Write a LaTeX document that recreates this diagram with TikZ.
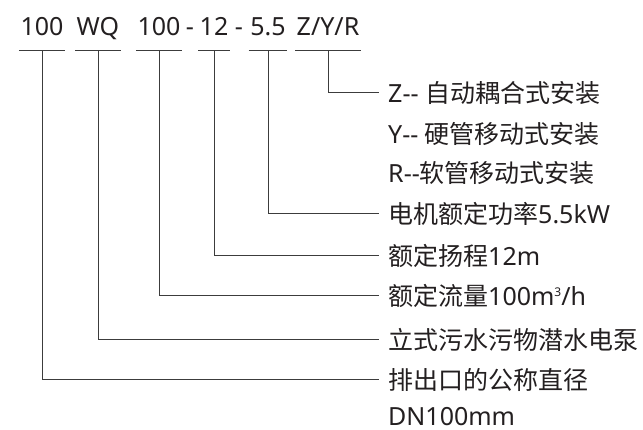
\documentclass[tikz,border=0pt]{standalone}
\usepackage{fontspec}
\setmainfont{Noto Sans}
\newfontfamily\cjk{Noto Sans CJK SC}
\usepackage{tikz}
\usetikzlibrary{calc,positioning}
\definecolor{inkgray}{HTML}{231F20}
\definecolor{linegray}{HTML}{3C3C3C}
\tikzset{
  codepart/.style={
    anchor=base,
    inner xsep=1.5pt,
    text=inkgray,
    font=\fontsize{25}{28}\selectfont},
  desc/.style={
    anchor=west,
    inner xsep=0pt,
    inner ysep=0pt,
    text height=22pt,
    text depth=3pt,
    text=inkgray,
    font=\fontsize{25}{28}\selectfont},
  line/.style={draw=linegray, line width=1pt},
}
\begin{document}
\begin{tikzpicture}
  [x=1pt, y=-1pt]
  \useasboundingbox (0,0) rectangle (643,430);
  % model code
  \node[codepart] (dia)  at (42,36)  {100};
  \node[codepart] (kind) at (98,36)  {WQ};
  \node[codepart] (flow) at (159,36) {100};
  \node[codepart] (dasha) at (190,36) {-};
  \node[codepart] (head) at (214,36) {12};
  \node[codepart] (dashb) at (239,36) {-};
  \node[codepart] (power) at (268,36) {5.5};
  \node[codepart] (mount) at (328,36) {Z/Y/R};
  % meanings
  \node[desc] (mountZ) at (388,93)  {Z-{}- {\cjk 自动耦合式安装}};
  \node[desc] (mountY) at (388,134) {Y-{}- {\cjk 硬管移动式安装}};
  \node[desc] (mountR) at (388,173) {R-{}-{\cjk 软管移动式安装}};
  \node[desc] (powerT) at (388,214) {{\cjk 电机额定功率}5.5kW};
  \node[desc] (headT)  at (388,256) {{\cjk 额定扬程}12m};
  \node[desc] (flowT)  at (388,296)
    {{\cjk 额定流量}100m\raisebox{9pt}{\fontsize{12}{12}\selectfont 3}/h};
  \node[desc] (kindT)  at (388,340) {\cjk 立式污水污物潜水电泵};
  \node[desc] (diaT)   at (388,380) {\cjk 排出口的公称直径};
  \node[desc, text depth=0pt] (diaU) at (388,414) {DN100mm};
  % underlines and leaders
  \foreach \part/\text in {dia/diaT, kind/kindT, flow/flowT, head/headT,
                           power/powerT, mount/mountZ}
  {
    \draw[line] ([yshift=-15pt]\part.base west) -- ([yshift=-15pt]\part.base east);
    \draw[line] ([yshift=-15pt]\part.base) |- ([xshift=-9pt]\text.west);
  }
\end{tikzpicture}
\end{document}
